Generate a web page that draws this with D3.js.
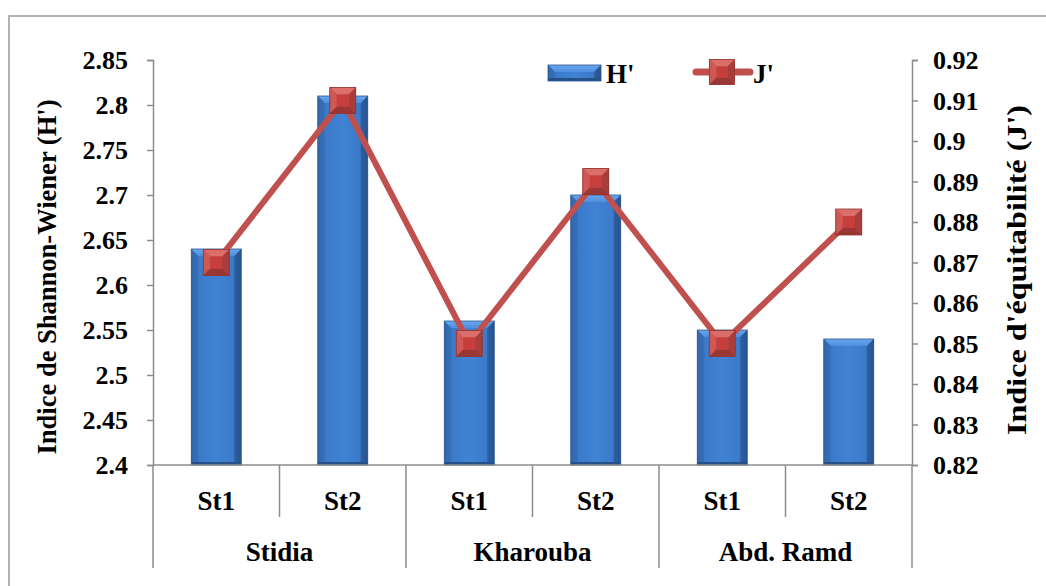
<!DOCTYPE html>
<html>
<head>
<meta charset="utf-8">
<script src="https://cdn.jsdelivr.net/npm/d3@7"></script>
<style>
  html, body { margin: 0; padding: 0; background: #fff; }
  svg { display: block; }
</style>
</head>
<body>
<svg id="chart" width="1046" height="586"></svg>
<script>
// Diversity indices per station
const groups = ["Stidia", "Kharouba", "Abd. Ramd"];
const stations = ["St1", "St2"];
const shannonH = [2.64, 2.81, 2.56, 2.70, 2.55, 2.54];
const evennessJ = [0.87, 0.91, 0.85, 0.89, 0.85, 0.88];
const leftTicks = [2.4, 2.45, 2.5, 2.55, 2.6, 2.65, 2.7, 2.75, 2.8, 2.85];
const rightTicks = [0.82, 0.83, 0.84, 0.85, 0.86, 0.87, 0.88, 0.89, 0.9, 0.91, 0.92];

const FONT = "'Liberation Serif', 'Times New Roman', Tinos, 'DejaVu Serif', serif";

const rows = [];
groups.forEach((g, gi) => stations.forEach((s, si) => {
  const i = gi * stations.length + si;
  rows.push({ id: g + "|" + s, group: g, station: s, h: shannonH[i], j: evennessJ[i] });
}));

const svg = d3.select("#chart");
const plot = { left: 153, right: 912, top: 60, bottom: 465 };

const x = d3.scaleBand().domain(rows.map(d => d.id)).range([plot.left, plot.right]).padding(0);
const yL = d3.scaleLinear().domain([2.4, 2.85]).range([plot.bottom, plot.top]);
const yR = d3.scaleLinear().domain([0.82, 0.92]).range([plot.bottom, plot.top]);
const barW = x.bandwidth() * 0.395;
const axisGrey = "#8c8c8c";

function label(sel) {
  return sel.style("font-family", FONT).style("font-weight", "bold").style("fill", "#000");
}

// gradients
const defs = svg.append("defs");
const gBar = defs.append("linearGradient").attr("id", "barFill").attr("x1", 0).attr("x2", 1).attr("y1", 0).attr("y2", 0);
[[0, "#2d62a6"], [0.14, "#3b7ac8"], [0.5, "#4082d4"], [0.86, "#3b7ac8"], [1, "#2b5a98"]]
  .forEach(([o, c]) => gBar.append("stop").attr("offset", o).attr("stop-color", c));
const gTop = defs.append("linearGradient").attr("id", "barTop").attr("x1", 0).attr("x2", 0).attr("y1", 0).attr("y2", 1);
[[0, "#6aa8ee"], [1, "#4d8edc"]].forEach(([o, c]) => gTop.append("stop").attr("offset", o).attr("stop-color", c));

// outer frame
svg.append("rect").attr("x", 9).attr("y", 16).attr("width", 1100).attr("height", 600)
  .attr("fill", "none").attr("stroke", "#9a9a9a").attr("stroke-width", 1.5);

// bevelled bar
function drawBar(g, x0, y0, w, h) {
  const b = Math.min(7, h / 2);
  g.append("rect").attr("x", x0).attr("y", y0).attr("width", w).attr("height", h).attr("fill", "url(#barFill)");
  g.append("path").attr("d", `M${x0},${y0}L${x0 + w},${y0}L${x0 + w - b},${y0 + b}L${x0 + b},${y0 + b}Z`).attr("fill", "url(#barTop)");
  g.append("path").attr("d", `M${x0},${y0}L${x0 + b},${y0 + b}L${x0 + b},${y0 + h - 3}L${x0},${y0 + h}Z`).attr("fill", "#3469ad").attr("opacity", 0.6);
  g.append("path").attr("d", `M${x0 + w},${y0}L${x0 + w - b},${y0 + b}L${x0 + w - b},${y0 + h - 3}L${x0 + w},${y0 + h}Z`).attr("fill", "#244f88").attr("opacity", 0.6);
  g.append("rect").attr("x", x0).attr("y", y0 + h - 3).attr("width", w).attr("height", 3).attr("fill", "#25508a");
  g.append("rect").attr("x", x0).attr("y", y0).attr("width", w).attr("height", h)
    .attr("fill", "none").attr("stroke", "#2a5693").attr("stroke-width", 0.8);
}

// bevelled square marker
function drawMarker(g, cx, cy, s) {
  const h = s / 2, b = 7;
  const x0 = cx - h, y0 = cy - h, x1 = cx + h, y1 = cy + h;
  g.append("rect").attr("x", x0).attr("y", y0).attr("width", s).attr("height", s).attr("fill", "#c24a47");
  g.append("path").attr("d", `M${x0},${y0}L${x1},${y0}L${x1 - b},${y0 + b}L${x0 + b},${y0 + b}Z`).attr("fill", "#dc6e6a");
  g.append("path").attr("d", `M${x0},${y0}L${x0 + b},${y0 + b}L${x0 + b},${y1 - b}L${x0},${y1}Z`).attr("fill", "#cf5855");
  g.append("path").attr("d", `M${x1},${y0}L${x1 - b},${y0 + b}L${x1 - b},${y1 - b}L${x1},${y1}Z`).attr("fill", "#a83e3b");
  g.append("path").attr("d", `M${x0},${y1}L${x0 + b},${y1 - b}L${x1 - b},${y1 - b}L${x1},${y1}Z`).attr("fill", "#9a3633");
  g.append("rect").attr("x", x0 + b).attr("y", y0 + b).attr("width", s - 2 * b).attr("height", s - 2 * b).attr("fill", "#c73f3c");
  g.append("rect").attr("x", x0).attr("y", y0).attr("width", s).attr("height", s)
    .attr("fill", "none").attr("stroke", "#8e3230").attr("stroke-width", 0.8);
}

// bars (H')
const barsG = svg.append("g");
rows.forEach(d => {
  const cx = x(d.id) + x.bandwidth() / 2;
  drawBar(barsG, cx - barW / 2, yL(d.h), barW, yL(2.4) - yL(d.h));
});

// axes
const axL = svg.append("g").attr("transform", `translate(${plot.left},0)`)
  .call(d3.axisLeft(yL).tickValues(leftTicks).tickSize(6).tickPadding(19).tickFormat(d3.format("")));
const axR = svg.append("g").attr("transform", `translate(${plot.right},0)`)
  .call(d3.axisRight(yR).tickValues(rightTicks).tickSize(6).tickPadding(15).tickFormat(d3.format("")));
[axL, axR].forEach(a => {
  a.attr("font-family", null).attr("font-size", null);
  a.select(".domain").attr("stroke", axisGrey).attr("stroke-width", 1.5);
  a.selectAll(".tick line").attr("stroke", axisGrey).attr("stroke-width", 1.5);
  label(a.selectAll(".tick text")).style("font-size", "26px").attr("dy", "0.34em");
});

// category axis: baseline, separators, labels
svg.append("line").attr("x1", plot.left).attr("x2", plot.right).attr("y1", plot.bottom).attr("y2", plot.bottom)
  .attr("stroke", axisGrey).attr("stroke-width", 1.5);
rows.forEach((d, i) => {
  const xl = x(d.id);
  const isGroupStart = i % stations.length === 0;
  svg.append("line").attr("x1", xl).attr("x2", xl).attr("y1", plot.bottom).attr("y2", isGroupStart ? 568 : 517)
    .attr("stroke", axisGrey).attr("stroke-width", 1.5);
  label(svg.append("text")).attr("x", xl + x.bandwidth() / 2).attr("y", 510).attr("text-anchor", "middle")
    .style("font-size", "27px").text(d.station);
});
svg.append("line").attr("x1", plot.right).attr("x2", plot.right).attr("y1", plot.bottom).attr("y2", 568)
  .attr("stroke", axisGrey).attr("stroke-width", 1.5);
groups.forEach(g => {
  const ids = rows.filter(d => d.group === g).map(d => d.id);
  const cx = (x(ids[0]) + x(ids[ids.length - 1]) + x.bandwidth()) / 2;
  label(svg.append("text")).attr("x", cx).attr("y", 561).attr("text-anchor", "middle").style("font-size", "27px").text(g);
});

// J' line and markers
const line = d3.line().x(d => x(d.id) + x.bandwidth() / 2).y(d => yR(d.j));
svg.append("path").datum(rows).attr("d", line).attr("fill", "none").attr("stroke", "#c0504d").attr("stroke-width", 6);
const markG = svg.append("g");
rows.forEach(d => drawMarker(markG, x(d.id) + x.bandwidth() / 2, yR(d.j), 26));

// axis titles
label(svg.append("text")).attr("transform", "translate(47,277) rotate(-90)").attr("text-anchor", "middle")
  .attr("dominant-baseline", "central").style("font-size", "27px")
  .attr("textLength", 355).attr("lengthAdjust", "spacingAndGlyphs").text("Indice de Shannon-Wiener (H')");
label(svg.append("text")).attr("transform", "translate(1017,270) rotate(-90)").attr("text-anchor", "middle")
  .attr("dominant-baseline", "central").style("font-size", "27px")
  .attr("textLength", 330).attr("lengthAdjust", "spacingAndGlyphs").text("Indice d'équitabilité (J')");

// legend
const leg = svg.append("g");
drawBar(leg, 548, 65, 53, 16);
label(leg.append("text")).attr("x", 606).attr("y", 83).style("font-size", "27px").text("H'");
leg.append("line").attr("x1", 696).attr("x2", 750).attr("y1", 72).attr("y2", 72)
  .attr("stroke", "#c0504d").attr("stroke-width", 7).attr("stroke-linecap", "round");
drawMarker(leg, 722, 72, 25);
label(leg.append("text")).attr("x", 753).attr("y", 83).style("font-size", "27px").text("J'");
</script>
</body>
</html>
